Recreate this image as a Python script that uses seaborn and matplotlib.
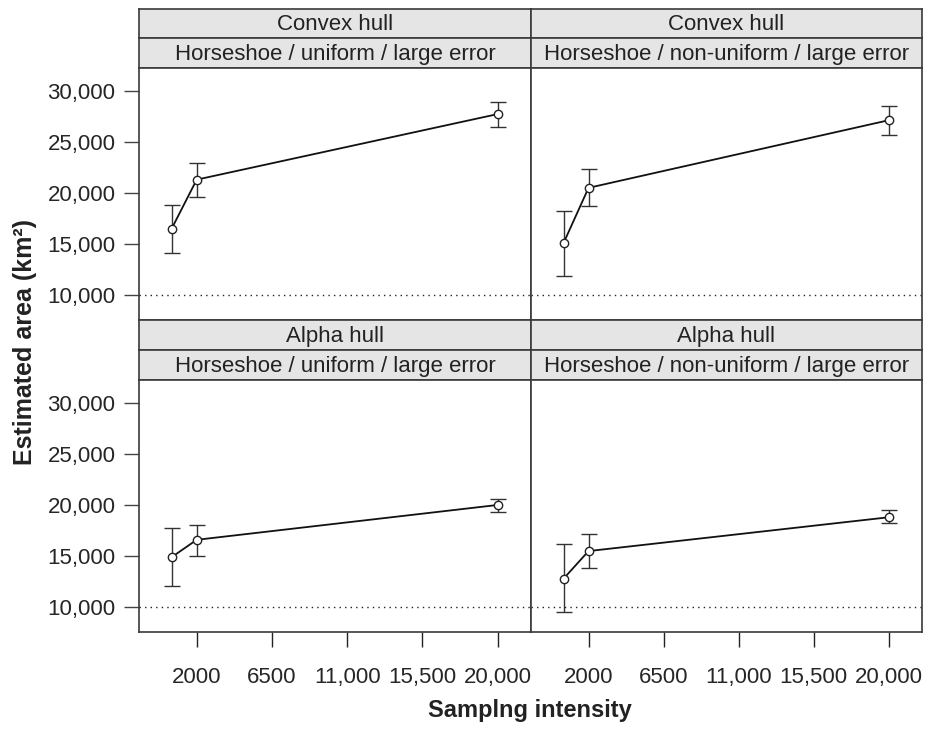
import numpy as np
import pandas as pd
import matplotlib
matplotlib.use("Agg")
import matplotlib.pyplot as plt
import seaborn as sns

sns.set_style("ticks")
plt.rcParams["font.family"] = ["Liberation Sans", "DejaVu Sans"]

# data
sampling = [500, 2000, 20000]
methods = ["Convex hull", "Convex hull", "Alpha hull", "Alpha hull"]
scenarios = [
    "Horseshoe / uniform / large error",
    "Horseshoe / non-uniform / large error",
    "Horseshoe / uniform / large error",
    "Horseshoe / non-uniform / large error",
]
convex_unif_mean = [16500, 21300, 27700]
convex_unif_lo = [14100, 19600, 26400]
convex_unif_hi = [18800, 22900, 28900]
convex_nonunif_mean = [15100, 20500, 27100]
convex_nonunif_lo = [11900, 18700, 25700]
convex_nonunif_hi = [18200, 22300, 28500]
alpha_unif_mean = [14900, 16600, 20000]
alpha_unif_lo = [12100, 15000, 19300]
alpha_unif_hi = [17800, 18000, 20600]
alpha_nonunif_mean = [12800, 15500, 18800]
alpha_nonunif_lo = [9600, 13800, 18200]
alpha_nonunif_hi = [16200, 17200, 19500]
true_area = 10000
xticks = [2000, 6500, 11000, 15500, 20000]
xticklabels = ["2000", "6500", "11,000", "15,500", "20,000"]
yticks = [10000, 15000, 20000, 25000, 30000]
yticklabels = ["10,000", "15,000", "20,000", "25,000", "30,000"]

panels = [
    (convex_unif_mean, convex_unif_lo, convex_unif_hi),
    (convex_nonunif_mean, convex_nonunif_lo, convex_nonunif_hi),
    (alpha_unif_mean, alpha_unif_lo, alpha_unif_hi),
    (alpha_nonunif_mean, alpha_nonunif_lo, alpha_nonunif_hi),
]

W, H = 929, 730
fig = plt.figure(figsize=(W / 100, H / 100), dpi=100)


def box(x0, y0, x1, y1):
    # pixel box (top-left origin) -> figure fraction rect
    return [x0 / W, 1 - y1 / H, (x1 - x0) / W, (y1 - y0) / H]


edge = "#3a3a3a"
xcols = [(139, 531), (531, 922)]
rows = [(9, 38, 68, 320), (320, 350, 380, 632)]

for i, (mean, lo, hi) in enumerate(panels):
    r, c = divmod(i, 2)
    x0, x1 = xcols[c]
    s0, s1, p0, p1 = rows[r]

    # strips
    for (ya, yb), label in [((s0, s1), methods[i]), ((s1, p0), scenarios[i])]:
        sax = fig.add_axes(box(x0, ya, x1, yb))
        sax.set_facecolor("#e5e5e5")
        sax.set_xticks([])
        sax.set_yticks([])
        for sp in sax.spines.values():
            sp.set_color(edge)
            sp.set_linewidth(1.2)
        sax.text(0.5, 0.45, label, ha="center", va="center",
                 fontsize=16, color="#222222", transform=sax.transAxes)

    ax = fig.add_axes(box(x0, p0, x1, p1))
    df = pd.DataFrame({"n": sampling, "area": mean})
    mean_a = np.array(mean)
    ax.errorbar(sampling, mean, yerr=[mean_a - np.array(lo), np.array(hi) - mean_a],
                fmt="none", ecolor="#333333", elinewidth=1.0, capsize=5.5,
                capthick=1.0, zorder=2)
    sns.lineplot(data=df, x="n", y="area", ax=ax, color="#111111", linewidth=1.3,
                 marker="o", markersize=6, markerfacecolor="white",
                 markeredgecolor="#222222", markeredgewidth=1.0, zorder=3)
    ax.axhline(true_area, color="#222222", linestyle=(0, (1, 3)), linewidth=1.0, zorder=1)

    ax.set_xlim(-1450, 22000)
    ax.set_ylim(7600, 32200)
    ax.set_xlabel("")
    ax.set_ylabel("")
    for sp in ax.spines.values():
        sp.set_color(edge)
        sp.set_linewidth(1.2)

    if r == 1:
        ax.set_xticks(xticks)
        ax.set_xticklabels(xticklabels, fontsize=16)
        ax.tick_params(axis="x", length=11, width=1.0, color="#222222", pad=14)
    else:
        ax.set_xticks([])
    if c == 0:
        ax.set_yticks(yticks)
        ax.set_yticklabels(yticklabels, fontsize=16)
        ax.tick_params(axis="y", length=11, width=1.0, color="#444444", pad=6)
    else:
        ax.set_yticks([])

fig.text(25 / W, 1 - 342 / H, "Estimated area (km²)", rotation=90, ha="center",
         va="center", fontsize=18, fontweight="bold", color="#222222")
fig.text(530 / W, 1 - 711 / H, "Samplng intensity", ha="center", va="center",
         fontsize=17, fontweight="bold", color="#222222")

fig.savefig("out.png", dpi=100)
